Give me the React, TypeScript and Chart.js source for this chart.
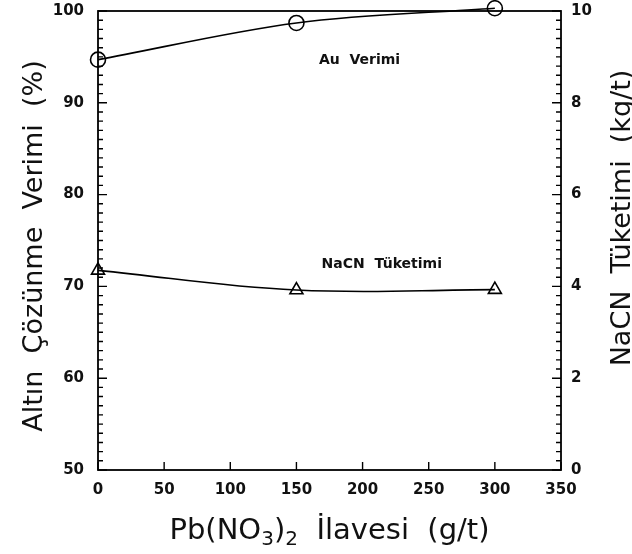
import React, { useEffect, useRef } from 'react';
import { Chart, registerables } from 'chart.js';

Chart.register(...registerables);

// ---- data ----
const doses = [0, 150, 300]; // Pb(NO3)2 (g/t)
const auYield = [94.7, 98.7, 100.3]; // Au Verimi (%)
const nacnUse = [4.35, 3.92, 3.93]; // NaCN Tüketimi (kg/t)

const xRange = [0, 350];
const xStep = 50;
const yRange = [50, 100];
const yStep = 1;
const yMajor = 10;
const y1Range = [0, 10];
const y1Step = 0.2;
const y1Major = 2;

// x title pieces: [text, isSubscript]
const xTitleParts: [string, boolean][] = [
  ['Pb(NO', false],
  ['3', true],
  [')', false],
  ['2', true],
  ['  İlavesi  (g/t)', false],
];
const yTitle = 'Altın  Çözünme  Verimi  (%)';
const y1Title = 'NaCN  Tüketimi  (kg/t)';
const auLabel = 'Au  Verimi';
const nacnLabel = 'NaCN  Tüketimi';

const FONT = "'DejaVu Sans', sans-serif";

const framePlugin = {
  id: 'frameTicks',
  afterDraw(chart: any) {
    const { ctx, chartArea, scales } = chart;
    const { left, right, top, bottom } = chartArea;
    ctx.save();
    ctx.strokeStyle = '#000';
    ctx.lineWidth = 1.8;
    ctx.strokeRect(left, top, right - left, bottom - top);

    ctx.lineWidth = 1.4;
    ctx.beginPath();
    scales.y.ticks.forEach((t: any) => {
      const py = scales.y.getPixelForValue(t.value);
      const major = Math.abs(t.value / yMajor - Math.round(t.value / yMajor)) < 1e-6;
      ctx.moveTo(left, py);
      ctx.lineTo(left + (major ? 9 : 5), py);
    });
    scales.y1.ticks.forEach((t: any) => {
      const py = scales.y1.getPixelForValue(t.value);
      const major = Math.abs(t.value / y1Major - Math.round(t.value / y1Major)) < 1e-6;
      ctx.moveTo(right, py);
      ctx.lineTo(right - (major ? 9 : 5), py);
    });
    scales.x.ticks.forEach((t: any) => {
      const px = scales.x.getPixelForValue(t.value);
      ctx.moveTo(px, bottom);
      ctx.lineTo(px, bottom - 8);
    });
    ctx.stroke();

    // x axis title with subscripts
    ctx.fillStyle = '#111';
    ctx.textBaseline = 'alphabetic';
    ctx.textAlign = 'left';
    const mainFont = `29px ${FONT}`;
    const subFont = `20px ${FONT}`;
    let total = 0;
    xTitleParts.forEach(([t, sub]) => {
      ctx.font = sub ? subFont : mainFont;
      total += ctx.measureText(t).width;
    });
    let cx = (left + right) / 2 - total / 2;
    xTitleParts.forEach(([t, sub]) => {
      ctx.font = sub ? subFont : mainFont;
      ctx.fillText(t, cx, sub ? 545 : 539);
      cx += ctx.measureText(t).width;
    });

    ctx.textAlign = 'center';
    ctx.save();
    ctx.translate(42, 246);
    ctx.rotate(-Math.PI / 2);
    ctx.font = `27px ${FONT}`;
    ctx.fillText(yTitle, 0, 0);
    ctx.restore();

    ctx.save();
    ctx.translate(630, 218);
    ctx.rotate(-Math.PI / 2);
    ctx.font = `27px ${FONT}`;
    ctx.fillText(y1Title, 0, 0);
    ctx.restore();

    // curve labels
    ctx.textAlign = 'left';
    ctx.font = `bold 14px ${FONT}`;
    ctx.fillText(auLabel, scales.x.getPixelForValue(167), scales.y.getPixelForValue(94.2));
    ctx.fillText(nacnLabel, scales.x.getPixelForValue(169), scales.y.getPixelForValue(72.0));
    ctx.restore();
  },
};

export default function App() {
  const ref = useRef<HTMLCanvasElement>(null);

  useEffect(() => {
    if (!ref.current) return;
    const tickFont = { family: FONT, size: 15, weight: 'bold' as const };
    const chart = new Chart(ref.current, {
      type: 'line',
      data: {
        datasets: [
          {
            label: 'Au Verimi',
            data: doses.map((d, i) => ({ x: d, y: auYield[i] })),
            yAxisID: 'y',
            borderColor: '#000',
            borderWidth: 1.6,
            backgroundColor: 'rgba(0,0,0,0)',
            pointStyle: 'circle',
            pointRadius: 7.5,
            pointBorderWidth: 1.6,
            pointBorderColor: '#000',
            pointBackgroundColor: 'rgba(0,0,0,0)',
            cubicInterpolationMode: 'monotone',
            clip: false as any,
          },
          {
            label: 'NaCN Tüketimi',
            data: doses.map((d, i) => ({ x: d, y: nacnUse[i] })),
            yAxisID: 'y1',
            borderColor: '#000',
            borderWidth: 1.6,
            backgroundColor: 'rgba(0,0,0,0)',
            pointStyle: 'triangle',
            pointRadius: 7.5,
            pointBorderWidth: 1.6,
            pointBorderColor: '#000',
            pointBackgroundColor: 'rgba(0,0,0,0)',
            tension: 0.4,
            clip: false as any,
          },
        ],
      },
      options: {
        animation: false,
        responsive: true,
        maintainAspectRatio: false,
        layout: { padding: { top: 11, left: 0, right: 0, bottom: 0 } },
        plugins: { legend: { display: false }, tooltip: { enabled: false } },
        scales: {
          x: {
            type: 'linear',
            min: xRange[0],
            max: xRange[1],
            grid: { display: false, drawTicks: false },
            border: { display: false },
            ticks: { stepSize: xStep, color: '#111', font: tickFont, padding: 11, maxRotation: 0 },
            afterFit: (s: any) => { s.height = 84; s.paddingLeft = 0; s.paddingRight = 0; },
          },
          y: {
            type: 'linear',
            position: 'left',
            min: yRange[0],
            max: yRange[1],
            grid: { display: false, drawTicks: false },
            border: { display: false },
            ticks: {
              stepSize: yStep,
              autoSkip: false,
              color: '#111',
              font: tickFont,
              padding: 14,
              callback: (v: any) => (Math.abs(v / yMajor - Math.round(v / yMajor)) < 1e-6 ? String(Math.round(v)) : ''),
            },
            afterFit: (s: any) => { s.width = 98; s.paddingTop = 0; s.paddingBottom = 0; },
          },
          y1: {
            type: 'linear',
            position: 'right',
            min: y1Range[0],
            max: y1Range[1],
            grid: { display: false, drawTicks: false },
            border: { display: false },
            ticks: {
              stepSize: y1Step,
              autoSkip: false,
              color: '#111',
              font: tickFont,
              padding: 10,
              callback: (v: any) => (Math.abs(v / y1Major - Math.round(v / y1Major)) < 1e-6 ? String(Math.round(v)) : ''),
            },
            afterFit: (s: any) => { s.width = 71; s.paddingTop = 0; s.paddingBottom = 0; },
          },
        },
      },
      plugins: [framePlugin],
    });
    return () => chart.destroy();
  }, []);

  return (
    <div style={{ position: 'fixed', left: 0, top: 0, width: 632, height: 554, background: '#fff' }}>
      <canvas ref={ref} />
    </div>
  );
}
